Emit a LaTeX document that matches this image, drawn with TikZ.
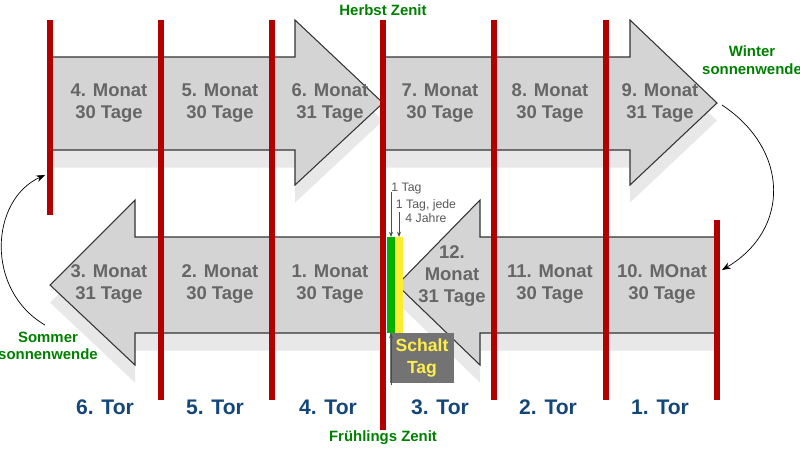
\documentclass[tikz,border=0pt]{standalone}
\usepackage{fontspec}
\setmainfont{Liberation Sans}
\usetikzlibrary{
  arrows.meta,
  shadows,
  positioning,
}
\tikzstyle{gate} = [line width=3.5pt, red!70!black]
\tikzstyle{month} = [font=\bfseries\fontsize{10.5}{12.5}\selectfont, text=black!60, align=center]
\tikzstyle{tor} = [font=\bfseries\fontsize{12}{14}\selectfont, text={rgb,255:red,20;green,70;blue,120}]
\tikzstyle{zenit} = [font=\bfseries\fontsize{8.5}{10}\selectfont, text=green!50!black, align=center, inner sep=1pt]
\tikzstyle{small} = [font=\fontsize{7}{8}\selectfont, text=black!65, align=center, inner sep=0pt]
\tikzstyle{bigarrow} = [fill=black!17, draw=black!80, line width=0.6pt,
  drop shadow={shadow xshift=0pt, shadow yshift=-10pt, opacity=0.18}]

\begin{document}
\begin{tikzpicture}[x=0.02cm, y=-0.02cm]
  \useasboundingbox (0,0) rectangle (800,451);
  % arrows
  \draw [bigarrow] (50,57) -- (295,57) -- (295,20) -- (383,103) -- (295,185) -- (295,150) -- (50,150) -- cycle;
  \draw [bigarrow] (383,57) -- (630,57) -- (630,20) -- (717,103) -- (630,185) -- (630,150) -- (383,150) -- cycle;
  \draw [bigarrow] (383,237) -- (135,237) -- (135,200) -- (50,285) -- (135,365) -- (135,333) -- (383,333) -- cycle;
  \draw [bigarrow] (717,237) -- (480,237) -- (480,200) -- (397,285) -- (480,365) -- (480,333) -- (717,333) -- cycle;
  % gates
  \draw [gate] (50,20) -- (50,215);
  \foreach \x in {161,272,494,606}
    \draw [gate] (\x,20) -- (\x,400);
  \draw [gate] (383,20) -- (383,430);
  \draw [gate] (717,220) -- (717,400);
  % months
  \foreach \x/\n/\d in {109/4/30,220/5/30,330/6/31,440/7/30,550/8/30,660/9/31}
    \node [month] (m\n) at (\x,103) {\n. Monat\\\d~Tage};
  \foreach \x/\n/\d in {109/3/31,220/2/30,330/1/30,550/11/30}
    \node [month] (m\n) at (\x,284) {\n. Monat\\\d~Tage};
  \node [month] (m12) at (452,276) {12.\\Monat\\31 Tage};
  \node [month] (m10) at (662,284) {10. MOnat\\30 Tage};
  % leap days
  \fill [green!70!black] (387,237) rectangle (395,333);
  \fill [yellow!90!orange!80] (396,237) rectangle (403,333);
  \node [small, anchor=west] (tag) at (391,189) {1 Tag};
  \node [small, anchor=north] (jede) at (426,199) {1 Tag, jede\\4 Jahre};
  \coordinate (gtop) at (391,237);
  \coordinate (ytop) at (399,237);
  \draw [-{Stealth[length=3pt]}, black!70, thin] (391,192) -- (gtop);
  \draw [-{Stealth[length=3pt]}, black!70, thin] (399,212) -- (ytop);
  \node [fill=black!55, font=\bfseries\fontsize{10}{12}\selectfont, text=yellow!90!orange!70,
    align=center, minimum width=56*0.02cm, minimum height=45*0.02cm] (schalt) at (422,358) {Schalt\\Tag};
  \coordinate (gbot) at (391,333);
  \draw [-{Stealth[length=3pt]}, black!70, thin] (391,385) -- (gbot);
  % tore
  \foreach \x/\n in {105/6,215/5,328/4,440/3,548/2,660/1}
    \node [tor] (t\n) at (\x,407) {\n. Tor};
  % zenit und wende
  \node [zenit] (herbst) at (383,10) {Herbst Zenit};
  \node [zenit] (fruehling) at (383,438) {Frühlings Zenit};
  \node [zenit] (winter) at (752,60) {Winter\\sonnenwende};
  \node [zenit] (sommer) at (48,346) {Sommer\\sonnenwende};
  \coordinate (wstart) at (722,105);
  \coordinate (wend) at (722,270);
  \coordinate (sstart) at (45,325);
  \coordinate (send) at (45,175);
  \draw [-{Stealth[length=5pt]}] (wstart) .. controls (790,150) and (790,230) .. (wend);
  \draw [-{Stealth[length=5pt]}] (sstart) .. controls (-15,290) and (-10,200) .. (send);
\end{tikzpicture}
\end{document}
